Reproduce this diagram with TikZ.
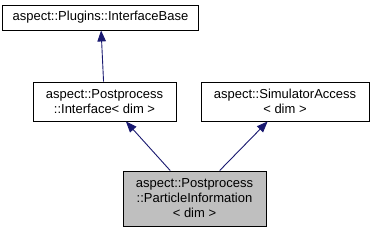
\documentclass[tikz,border=0pt]{standalone}
\usepackage{fontspec}
\setmainfont{Liberation Sans}
\usetikzlibrary{arrows.meta}
\definecolor{edgeblue}{HTML}{191970}

\begin{document}
\begin{tikzpicture}[x=1pt, y=1pt, every node/.style={font=\fontsize{13}{15}\selectfont},
	cls/.style={draw=black, line width=0.9pt, align=center, inner sep=0pt},
	inherit/.style={draw=edgeblue, line width=0.9pt, -{Triangle[length=11pt, width=8.5pt]}}]
	\useasboundingbox (0,0) rectangle (375,232);
	\node[cls, minimum width=196pt, minimum height=25pt] (base) at (100.5,214.5) {aspect::Plugins::InterfaceBase};
	\node[cls, minimum width=143pt, minimum height=39pt] (iface) at (104.5,130.5) {aspect::Postprocess\\::Interface< dim >};
	\node[cls, minimum width=168pt, minimum height=39pt] (simacc) at (285,130.5) {aspect::SimulatorAccess\\< dim >};
	\node[cls, fill=gray!50, minimum width=143pt, minimum height=55pt] (partinfo) at (194.5,33.5) {aspect::Postprocess\\::ParticleInformation\\< dim >};
	\draw[inherit] (iface) -- (base);
	\draw[inherit] (partinfo.131.7) -- (iface.-43.6);
	\draw[inherit] (partinfo.48.3) -- (simacc.-131.1);
\end{tikzpicture}
\end{document}
